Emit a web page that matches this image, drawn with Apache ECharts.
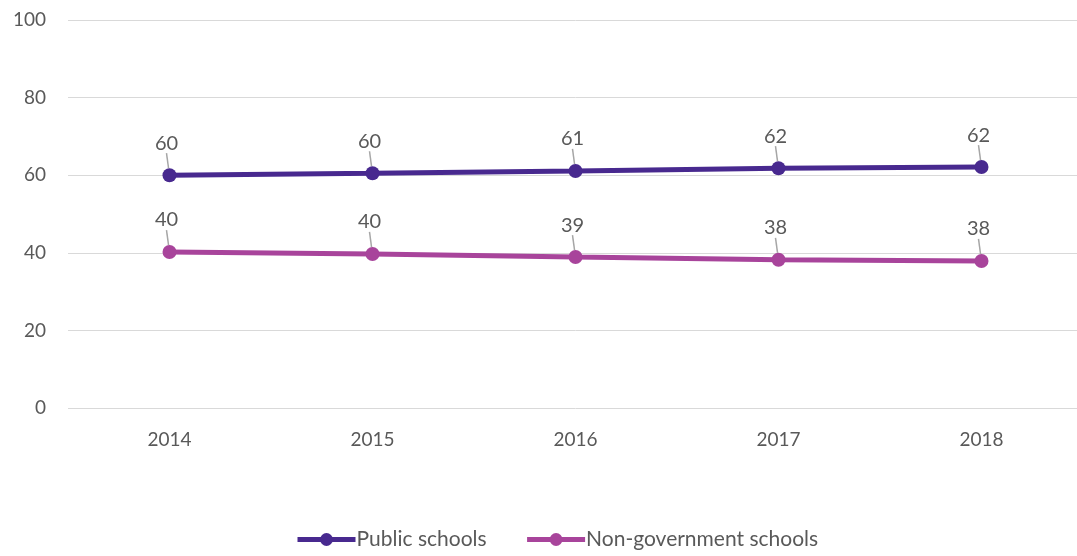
<!DOCTYPE html>
<html>
<head>
<meta charset="utf-8">
<script src="https://cdn.jsdelivr.net/npm/echarts@6/dist/echarts.min.js"></script>
<style>
  html, body { margin: 0; padding: 0; background: #fff; overflow: hidden; }
  #chart { width: 1095px; height: 556px; }
</style>
</head>
<body>
<div id="chart"></div>
<script>
var years = ['2014', '2015', '2016', '2017', '2018'];
var publicSchools = [60.0, 60.5, 61.1, 61.8, 62.1];
var nonGovSchools = [40.2, 39.7, 38.9, 38.2, 37.9];
var publicLabels = ['60', '60', '61', '62', '62'];
var nonGovLabels = ['40', '40', '39', '38', '38'];

var textColor = '#595959';
var font = 'Lato, "Open Sans", sans-serif';

function makeSeries(name, values, labels, color) {
  return {
    name: name,
    type: 'line',
    data: values,
    symbol: 'circle',
    symbolSize: 14,
    lineStyle: { width: 5, color: color },
    itemStyle: { color: color },
    label: {
      show: true,
      position: 'top',
      distance: 4,
      color: textColor,
      fontFamily: font,
      fontSize: 20,
      formatter: function (p) { return labels[p.dataIndex]; }
    },
    labelLayout: { dx: -3, dy: -11 },
    labelLine: { show: true, lineStyle: { color: '#a6a6a6', width: 1.5 } },
    z: 2
  };
}

var chart = echarts.init(document.getElementById('chart'));
chart.setOption({
  animation: false,
  grid: { left: 68, top: 20, width: 1015, height: 388 },
  legend: {
    bottom: 1,
    left: 290,
    itemWidth: 58,
    itemHeight: 16,
    itemGap: 38,
    lineStyle: { width: 5 },
    textStyle: { color: textColor, fontFamily: font, fontSize: 21, padding: [0, 0, 0, -4] },
    data: ['Public schools', 'Non-government schools']
  },
  xAxis: {
    type: 'category',
    data: years,
    axisLine: { show: false },
    axisTick: { show: false },
    axisLabel: { color: textColor, fontFamily: font, fontSize: 19, margin: 22 }
  },
  yAxis: {
    type: 'value',
    min: 0,
    max: 100,
    interval: 20,
    axisLabel: { color: textColor, fontFamily: font, fontSize: 19, margin: 22 },
    splitLine: { lineStyle: { color: '#d9d9d9', width: 1 } }
  },
  series: [
    makeSeries('Public schools', publicSchools, publicLabels, '#48298F'),
    makeSeries('Non-government schools', nonGovSchools, nonGovLabels, '#A8449B')
  ]
});
</script>
</body>
</html>
